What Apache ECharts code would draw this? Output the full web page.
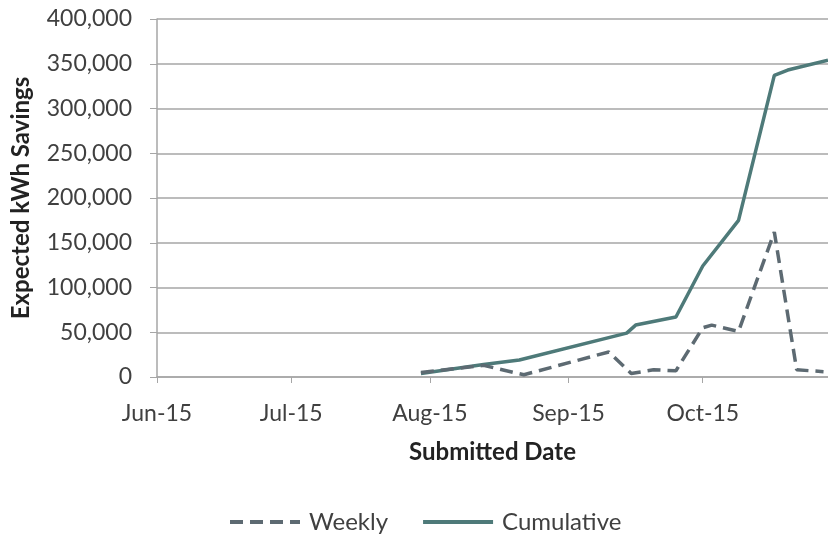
<!DOCTYPE html>
<html>
<head>
<meta charset="utf-8">
<script src="https://cdn.jsdelivr.net/npm/echarts@6/dist/echarts.min.js"></script>
<style>
  html, body { margin: 0; padding: 0; background: #fff; }
  #chart { width: 828px; height: 537px; }
</style>
</head>
<body>
<div id="chart"></div>
<script>
// values
const weeklyDates = ['2015-07-30', '2015-08-13', '2015-08-22', '2015-09-10', '2015-09-15', '2015-09-20', '2015-09-25', '2015-10-01', '2015-10-03', '2015-10-09', '2015-10-17', '2015-10-22', '2015-10-28'];
const weeklyValues = [5000, 13000, 2500, 28000, 4000, 8000, 7000, 55000, 58000, 51000, 162000, 8000, 6000];

const cumulativeDates = ['2015-07-30', '2015-08-13', '2015-08-21', '2015-09-14', '2015-09-16', '2015-09-25', '2015-10-01', '2015-10-09', '2015-10-17', '2015-10-20', '2015-10-29'];
const cumulativeValues = [4000, 14000, 19000, 49000, 58000, 67000, 124000, 175000, 337000, 343000, 354000];

const monthTicks = ['2015-06-01', '2015-07-01', '2015-08-01', '2015-09-01', '2015-10-01'];
const monthNames = ['Jan', 'Feb', 'Mar', 'Apr', 'May', 'Jun', 'Jul', 'Aug', 'Sep', 'Oct', 'Nov', 'Dec'];

function toTime(s) {
	const [y, m, d] = s.split('-').map(Number);
	return new Date(y, m - 1, d).getTime();
}

function pairs(dates, values) {
	return dates.map((d, i) => [toTime(d), values[i]]);
}

const font = 'Lato, "Open Sans", sans-serif';
const textColor = '#404040';
const gridColor = '#a6a6a6';

const chart = echarts.init(document.getElementById('chart'));

const option = {
	animation: false,
	textStyle: { fontFamily: font },
	grid: {
		left: 157,
		right: 0,
		top: 19,
		bottom: 160,
	},
	legend: {
		top: 505,
		left: 223,
		itemWidth: 70,
		itemHeight: 14,
		itemGap: 33,
		itemStyle: { opacity: 0 },
		lineStyle: { width: 4 },
		textStyle: { fontSize: 24, color: textColor, fontFamily: font, padding: [0, 0, 0, 4] },
		data: ['Weekly', 'Cumulative'],
	},
	xAxis: {
		type: 'value',
		min: toTime('2015-06-01'),
		max: toTime('2015-10-29'),
		name: 'Submitted Date',
		nameLocation: 'middle',
		nameGap: 63,
		nameTextStyle: { fontSize: 24, fontWeight: 'bold', color: '#222', fontFamily: font },
		axisLine: { show: true, lineStyle: { color: gridColor, width: 1.5 } },
		axisTick: {
			show: true,
			length: 6,
			customValues: monthTicks.map(toTime),
			lineStyle: { color: gridColor },
		},
		axisLabel: {
			customValues: monthTicks.map(toTime),
			margin: 25,
			fontSize: 23,
			color: textColor,
			formatter: (val) => {
				const d = new Date(val);
				return monthNames[d.getMonth()] + '-' + String(d.getFullYear()).slice(2);
			},
		},
		splitLine: { show: false },
	},
	yAxis: {
		type: 'value',
		min: 0,
		max: 400000,
		interval: 50000,
		name: 'Expected kWh Savings',
		nameLocation: 'middle',
		nameGap: 124,
		nameTextStyle: { fontSize: 24, fontWeight: 'bold', color: '#222', fontFamily: font },
		axisLine: { show: true, lineStyle: { color: gridColor, width: 1.5 } },
		axisTick: { show: true, length: 7, lineStyle: { color: gridColor } },
		axisLabel: {
			margin: 25,
			fontSize: 23,
			color: textColor,
			formatter: (v) => v.toLocaleString('en-US'),
		},
		splitLine: { show: true, lineStyle: { color: gridColor, width: 1.5 } },
	},
	series: [
		{
			name: 'Weekly',
			type: 'line',
			symbol: 'none',
			data: pairs(weeklyDates, weeklyValues),
			lineStyle: { color: '#5d6a72', width: 3.5, type: [13, 7] },
			itemStyle: { color: '#5d6a72' },
			z: 3,
		},
		{
			name: 'Cumulative',
			type: 'line',
			symbol: 'none',
			data: pairs(cumulativeDates, cumulativeValues),
			lineStyle: { color: '#4e7a79', width: 3.5 },
			itemStyle: { color: '#4e7a79' },
			z: 2,
		},
	],
};

chart.setOption(option);
</script>
</body>
</html>
